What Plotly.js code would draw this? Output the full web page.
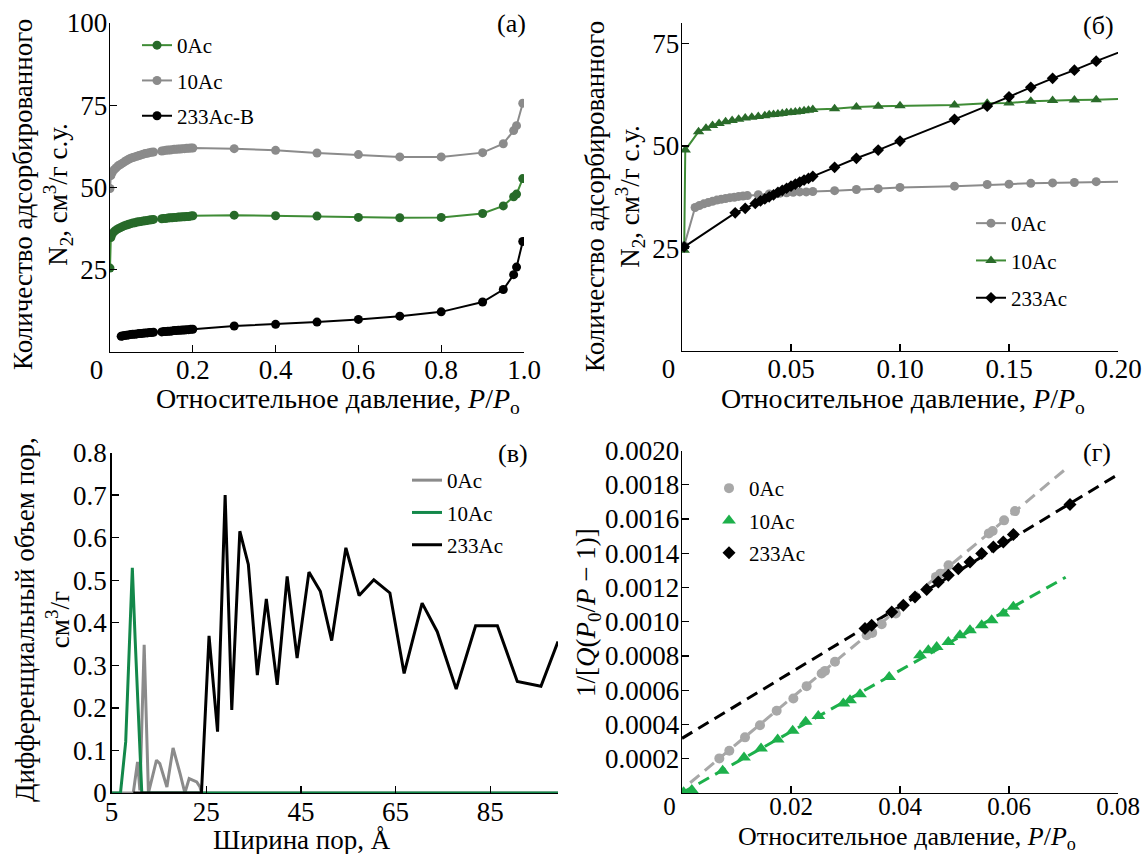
<!DOCTYPE html>
<html>
<head>
<meta charset="utf-8">
<script src="https://cdn.plot.ly/plotly-3.0.1.min.js"></script>
<style>html,body{margin:0;padding:0;background:#fff}#chart{width:1143px;height:854px}</style>
</head>
<body>
<div id="chart"></div>
<script>
// ---------- Panel (а): N2 isotherms, full P/P0 range ----------
const aP = [0, 0.002, 0.005, 0.01, 0.015, 0.02, 0.025, 0.03, 0.035, 0.04, 0.045, 0.05, 0.055, 0.06, 0.065, 0.07, 0.075, 0.08, 0.085, 0.09, 0.095, 0.1, 0.105, 0.125, 0.13, 0.135, 0.14, 0.145, 0.15, 0.155, 0.16, 0.165, 0.17, 0.175, 0.18, 0.185, 0.19, 0.195, 0.2, 0.3, 0.4, 0.5, 0.6, 0.7, 0.8, 0.9, 0.95, 0.975, 0.982, 0.997];
const a0Ac = [25.5, 34.8, 35.8, 36.6, 37.1, 37.5, 37.8, 38.1, 38.4, 38.6, 38.8, 39.0, 39.2, 39.3, 39.5, 39.6, 39.7, 39.8, 39.9, 40.0, 40.1, 40.2, 40.3, 40.5, 40.6, 40.6, 40.7, 40.8, 40.8, 40.9, 40.9, 41.0, 41.0, 41.1, 41.1, 41.2, 41.2, 41.3, 41.4, 41.6, 41.4, 41.3, 40.9, 40.8, 40.9, 42.1, 44.4, 47.2, 48.0, 52.7];
const a10Ac = [49.7, 53.6, 54.5, 55.4, 56.0, 56.6, 57.0, 57.4, 57.8, 58.2, 58.6, 58.9, 59.1, 59.3, 59.5, 59.7, 59.9, 60.1, 60.3, 60.4, 60.6, 60.7, 60.8, 61.1, 61.2, 61.3, 61.4, 61.4, 61.5, 61.6, 61.6, 61.7, 61.7, 61.8, 61.8, 61.9, 61.9, 62.0, 62.0, 61.8, 61.3, 60.5, 60.0, 59.3, 59.3, 60.6, 63.3, 67.3, 68.8, 75.6];
const aP233 = [0.027, 0.03, 0.035, 0.04, 0.045, 0.05, 0.055, 0.06, 0.065, 0.07, 0.075, 0.08, 0.085, 0.09, 0.095, 0.1, 0.105, 0.125, 0.13, 0.135, 0.14, 0.145, 0.15, 0.155, 0.16, 0.165, 0.17, 0.175, 0.18, 0.185, 0.19, 0.195, 0.2, 0.3, 0.4, 0.5, 0.6, 0.7, 0.8, 0.9, 0.95, 0.975, 0.982, 0.997];
const a233AcB = [4.8, 4.9, 5.0, 5.1, 5.2, 5.3, 5.4, 5.4, 5.5, 5.6, 5.6, 5.7, 5.8, 5.8, 5.9, 5.9, 6.0, 6.1, 6.2, 6.2, 6.3, 6.3, 6.4, 6.5, 6.5, 6.6, 6.6, 6.7, 6.7, 6.8, 6.8, 6.9, 6.9, 7.9, 8.4, 9.1, 9.9, 10.9, 12.2, 15.2, 19.0, 23.5, 25.8, 33.6];
const aXTicks = [0, 0.2, 0.4, 0.6, 0.8, 1.0];
const aXLabels = ['0\u00a0\u00a0\u00a0\u00a0', '0.2', '0.4', '0.6', '0.8', '1.0'];
const aYTicks = [25, 50, 75, 100];
const aYLabels = ['25', '50', '75', '100'];

// ---------- Panel (б): low-pressure region ----------
const b0AcP = [0.001, 0.006, 0.008, 0.010, 0.012, 0.014, 0.016, 0.018, 0.020, 0.022, 0.024, 0.026, 0.028, 0.030, 0.035, 0.040, 0.045, 0.048, 0.051, 0.054, 0.057, 0.060, 0.07, 0.08, 0.09, 0.10, 0.125, 0.14, 0.15, 0.16, 0.17, 0.18, 0.19, 0.21];
const b0Ac = [25.7, 35.0, 35.5, 35.9, 36.2, 36.5, 36.8, 37.0, 37.2, 37.4, 37.5, 37.7, 37.8, 37.9, 38.1, 38.3, 38.5, 38.6, 38.7, 38.8, 38.8, 38.9, 39.1, 39.4, 39.6, 39.9, 40.2, 40.6, 40.7, 40.9, 41.0, 41.1, 41.3, 41.4];
const b10AcP = [0.001, 0.0015, 0.0076, 0.011, 0.014, 0.017, 0.020, 0.023, 0.026, 0.029, 0.032, 0.035, 0.038, 0.040, 0.042, 0.044, 0.046, 0.048, 0.050, 0.052, 0.054, 0.056, 0.058, 0.060, 0.07, 0.08, 0.09, 0.10, 0.125, 0.14, 0.15, 0.16, 0.17, 0.18, 0.19, 0.21];
const b10Ac = [24.6, 49.0, 53.5, 54.3, 55.0, 55.5, 55.9, 56.2, 56.5, 56.8, 57.0, 57.2, 57.4, 57.6, 57.7, 57.8, 57.9, 58.1, 58.2, 58.3, 58.4, 58.6, 58.7, 58.9, 59.1, 59.5, 59.7, 59.8, 60.0, 60.4, 60.5, 60.9, 61.1, 61.2, 61.3, 61.6];
const b233AcP = [0.001, 0.0244, 0.029, 0.0336, 0.036, 0.038, 0.040, 0.042, 0.044, 0.046, 0.048, 0.050, 0.052, 0.054, 0.056, 0.058, 0.060, 0.07, 0.08, 0.09, 0.10, 0.125, 0.14, 0.15, 0.16, 0.17, 0.18, 0.19, 0.21];
const b233Ac = [25.4, 33.7, 34.8, 36.0, 36.6, 37.1, 37.6, 38.1, 38.7, 39.2, 39.7, 40.2, 40.7, 41.2, 41.7, 42.1, 42.6, 44.8, 47.0, 49.0, 51.2, 56.5, 59.7, 62.0, 64.3, 66.5, 68.5, 70.7, 74.8];
const bXTicks = [0, 0.05, 0.10, 0.15, 0.20];
const bXLabels = ['0\u00a0\u00a0\u00a0\u00a0', '0.05', '0.10', '0.15', '0.20'];
const bYTicks = [25, 50, 75];
const bYLabels = ['25', '50', '75'];

// ---------- Panel (в): pore size distribution ----------
const v0AcW = [5, 9.6, 10.5, 11.0, 11.9, 12.8, 14.5, 15.2, 16.7, 18.0, 19.5, 20.5, 21.4, 23.0, 23.7, 24.0, 99.3];
const v0Ac = [0, 0, 0.073, 0.006, 0.348, 0, 0.077, 0.069, 0.014, 0.106, 0.045, 0.0, 0.034, 0.026, 0.014, 0, 0];
const v10AcW = [5, 6.9, 8.0, 8.8, 9.4, 10.0, 11.4, 99.3];
const v10Ac = [0, 0, 0.12, 0.36, 0.529, 0.36, 0, 0];
const v233AcW = [9.6, 24.0, 25.6, 27.4, 29.0, 30.4, 32.1, 33.9, 35.8, 37.7, 40.0, 42.1, 44.2, 46.7, 49.1, 51.5, 54.5, 57.3, 60.4, 63.8, 66.8, 70.6, 73.8, 77.8, 81.9, 86.5, 90.7, 95.7, 99.3];
const v233Ac = [0, 0, 0.369, 0.144, 0.70, 0.195, 0.615, 0.537, 0.277, 0.456, 0.254, 0.509, 0.317, 0.519, 0.474, 0.358, 0.576, 0.464, 0.501, 0.47, 0.281, 0.446, 0.379, 0.244, 0.393, 0.393, 0.262, 0.251, 0.356];
const vXTicks = [5, 25, 45, 65, 85];
const vXLabels = ['5', '25', '45', '65', '85'];
const vYTicks = [0, 0.1, 0.2, 0.3, 0.4, 0.5, 0.6, 0.7, 0.8];
const vYLabels = ['0', '0.1', '0.2', '0.3', '0.4', '0.5', '0.6', '0.7', '0.8'];

// ---------- Panel (г): BET plots ----------
const g0AcP = [0.00685, 0.00868, 0.01156, 0.01431, 0.01737, 0.02043, 0.02287, 0.02563, 0.02624, 0.02807, 0.03388, 0.0349, 0.03664, 0.03923, 0.0466, 0.0474, 0.0489, 0.0563, 0.0570, 0.0591, 0.0611];
const g0Ac = [0.000202, 0.000247, 0.000325, 0.000396, 0.00048, 0.000552, 0.000624, 0.000698, 0.000713, 0.000766, 0.000921, 0.000935, 0.000985, 0.001048, 0.001262, 0.001281, 0.00133, 0.001516, 0.00153, 0.001592, 0.001646];
const g10AcP = [0.0003, 0.0018, 0.00746, 0.01138, 0.0145, 0.01755, 0.02031, 0.02269, 0.02501, 0.0296, 0.03083, 0.03266, 0.03802, 0.04367, 0.0452, 0.04673, 0.04886, 0.051, 0.05284, 0.05499, 0.05682, 0.05896, 0.0608];
const g10Ac = [0.000005, 0.000018, 0.00013, 0.000208, 0.00026, 0.000313, 0.000363, 0.000416, 0.000449, 0.000523, 0.000542, 0.000577, 0.000678, 0.000805, 0.000834, 0.000853, 0.000882, 0.000921, 0.00095, 0.00098, 0.001009, 0.001048, 0.001087];
const g233AcP = [0.03358, 0.0348, 0.03848, 0.04061, 0.04275, 0.0449, 0.04703, 0.04886, 0.0507, 0.05284, 0.05499, 0.05713, 0.05896, 0.0608, 0.07119];
const g233Ac = [0.00096, 0.00098, 0.001057, 0.001096, 0.001145, 0.001188, 0.001232, 0.001271, 0.00131, 0.001349, 0.001398, 0.001436, 0.001465, 0.00151, 0.001685];
const gFit0AcP = [0.0015, 0.0707];
const gFit0Ac = [0.00006, 0.00190];
const gFit10AcP = [0, 0.0704];
const gFit10Ac = [0, 0.00126];
const gFit233AcP = [0, 0.0814];
const gFit233Ac = [0.000319, 0.001887];
const gXTicks = [0, 0.02, 0.04, 0.06, 0.08];
const gXLabels = ['0\u00a0\u00a0\u00a0\u00a0', '0.02', '0.04', '0.06', '0.08'];
const gYTicks = [0.0002, 0.0004, 0.0006, 0.0008, 0.0010, 0.0012, 0.0014, 0.0016, 0.0018, 0.0020];
const gYLabels = ['0.0002', '0.0004', '0.0006', '0.0008', '0.0010', '0.0012', '0.0014', '0.0016', '0.0018', '0.0020'];

// ---------- styling / layout ----------
const FONT = '"Liberation Serif", "Times New Roman", Times, serif';
const W = 1143, H = 854;
const px = v => v / W;
const py = v => 1 - v / H;

function axis(domain, range, vals, text, anchor, standoff, fsize) {
  return {
    domain: domain, range: range, tickvals: vals, ticktext: text, anchor: anchor,
    showline: true, linecolor: '#000', linewidth: 1.3, mirror: false,
    ticks: 'inside', ticklen: 7, tickwidth: 1.3, tickcolor: '#000',
    ticklabelstandoff: standoff,
    showgrid: false, zeroline: false, fixedrange: true,
    tickfont: {family: FONT, size: fsize || 27, color: '#000'}
  };
}

const GREEN_A_LINE = '#3f8c36', GREEN_A_MARK = '#276a29';
const GRAY = '#8b8b8b';
const GREEN_V = '#13884a';
const GRAY_G = '#a8a8a8', GREEN_G = '#1db04b';

const traces = [
  // (а)
  {x: aP, y: a0Ac, xaxis: 'x', yaxis: 'y', mode: 'lines+markers', name: '0Ac',
   line: {color: GREEN_A_LINE, width: 2}, marker: {color: GREEN_A_MARK, size: 9},
   legend: 'legend', legendgroup: 'a1'},
  {x: aP, y: a10Ac, xaxis: 'x', yaxis: 'y', mode: 'lines+markers', name: '10Ac',
   line: {color: GRAY, width: 2}, marker: {color: GRAY, size: 9},
   legend: 'legend', legendgroup: 'a2'},
  {x: aP233, y: a233AcB, xaxis: 'x', yaxis: 'y', mode: 'lines+markers', name: '233Ac-B',
   line: {color: '#000', width: 2}, marker: {color: '#000', size: 9},
   legend: 'legend', legendgroup: 'a3'},
  // (б)
  {x: b0AcP, y: b0Ac, xaxis: 'x2', yaxis: 'y2', mode: 'lines+markers', name: '0Ac',
   line: {color: GRAY, width: 2}, marker: {color: GRAY, size: 9},
   legend: 'legend2', legendgroup: 'b1'},
  {x: b10AcP, y: b10Ac, xaxis: 'x2', yaxis: 'y2', mode: 'lines+markers', name: '10Ac',
   line: {color: GREEN_A_LINE, width: 2}, marker: {color: '#2a6b2a', size: 10, symbol: 'triangle-up'},
   legend: 'legend2', legendgroup: 'b2'},
  {x: b233AcP, y: b233Ac, xaxis: 'x2', yaxis: 'y2', mode: 'lines+markers', name: '233Ac',
   line: {color: '#000', width: 2}, marker: {color: '#000', size: 9, symbol: 'diamond'},
   legend: 'legend2', legendgroup: 'b3'},
  // (в)
  {x: v0AcW, y: v0Ac, xaxis: 'x3', yaxis: 'y3', mode: 'lines', name: '0Ac',
   line: {color: GRAY, width: 3}, legend: 'legend3', legendgroup: 'v1'},
  {x: v10AcW, y: v10Ac, xaxis: 'x3', yaxis: 'y3', mode: 'lines', name: '10Ac',
   line: {color: GREEN_V, width: 3}, legend: 'legend3', legendgroup: 'v2'},
  {x: v233AcW, y: v233Ac, xaxis: 'x3', yaxis: 'y3', mode: 'lines', name: '233Ac',
   line: {color: '#000', width: 3}, legend: 'legend3', legendgroup: 'v3'},
  // (г) fits
  {x: gFit0AcP, y: gFit0Ac, xaxis: 'x4', yaxis: 'y4', mode: 'lines', showlegend: false,
   line: {color: GRAY_G, width: 3, dash: '12px,7px'}},
  {x: gFit10AcP, y: gFit10Ac, xaxis: 'x4', yaxis: 'y4', mode: 'lines', showlegend: false,
   line: {color: GREEN_G, width: 3, dash: '12px,7px'}},
  {x: gFit233AcP, y: gFit233Ac, xaxis: 'x4', yaxis: 'y4', mode: 'lines', showlegend: false,
   line: {color: '#000', width: 3, dash: '12px,7px'}},
  // (г) points
  {x: g0AcP, y: g0Ac, xaxis: 'x4', yaxis: 'y4', mode: 'markers', name: '0Ac',
   marker: {color: GRAY_G, size: 10}, legend: 'legend4', legendgroup: 'g1'},
  {x: g10AcP, y: g10Ac, xaxis: 'x4', yaxis: 'y4', mode: 'markers', name: '10Ac',
   marker: {color: GREEN_G, size: 12, symbol: 'triangle-up'}, legend: 'legend4', legendgroup: 'g2'},
  {x: g233AcP, y: g233Ac, xaxis: 'x4', yaxis: 'y4', mode: 'markers', name: '233Ac',
   marker: {color: '#000', size: 10, symbol: 'diamond'}, legend: 'legend4', legendgroup: 'g3'}
];

function legendAt(x, y, gap) {
  return {x: px(x), y: py(y), xanchor: 'left', yanchor: 'top', bgcolor: 'rgba(0,0,0,0)',
          borderwidth: 0, font: {family: FONT, size: 21, color: '#000'},
          tracegroupgap: gap, itemclick: false, itemdoubleclick: false};
}

function note(text, x, y, size, angle) {
  return {text: text, xref: 'paper', yref: 'paper', x: px(x), y: py(y),
          xanchor: 'center', yanchor: 'middle', showarrow: false, textangle: angle || 0,
          font: {family: FONT, size: size, color: '#000'}};
}

const xTitle = 'Относительное давление, <i>P</i>/<i>P</i><sub>о</sub>';
const yTitleIso = 'Количество адсорбированного<br>N<sub>2</sub>, см<sup>3</sup>/г с.у.';

const layout = {
  width: W, height: H, margin: {l: 0, r: 0, t: 0, b: 0},
  paper_bgcolor: '#fff', plot_bgcolor: 'rgba(0,0,0,0)',
  font: {family: FONT, color: '#000'},
  xaxis: axis([px(110), px(524)], [0, 1], aXTicks, aXLabels, 'y', -7),
  yaxis: axis([py(352), py(23)], [0, 100], aYTicks, aYLabels, 'x', -4),
  xaxis2: axis([px(682), px(1118)], [0, 0.2], bXTicks, bXLabels, 'y2', -7),
  yaxis2: axis([py(351), py(23)], [0, 80], bYTicks, bYLabels, 'x2', -4),
  xaxis3: axis([px(111.5), px(558)], [5, 99.3], vXTicks, vXLabels, 'y3', -6),
  yaxis3: axis([py(793), py(452.5)], [0, 0.8], vYTicks, vYLabels, 'x3', -2),
  xaxis4: axis([px(682), px(1118)], [0, 0.08], gXTicks, gXLabels, 'y4', -9, 25),
  yaxis4: axis([py(793), py(450.5)], [0, 0.002], gYTicks, gYLabels, 'x4', -4),
  legend: legendAt(137, 25, 5),
  legend2: legendAt(971, 203, 7),
  legend3: legendAt(407, 460, 2),
  legend4: legendAt(709, 468, 2),
  annotations: [
    note('(а)', 511, 23, 26),
    note('(б)', 1098, 25, 26),
    note('(в)', 513, 453, 26),
    note('(г)', 1097, 452, 26),
    note(xTitle, 338, 400, 28),
    note(xTitle, 903, 400, 28),
    note('Ширина пор, Å', 302, 840, 27),
    note(xTitle, 907, 838, 26),
    note(yTitleIso, 42, 195, 27, -90),
    note(yTitleIso, 614, 197, 27, -90),
    note('Дифференциальный объем пор,<br>см<sup>3</sup>/г', 42, 620, 27, -90),
    note('1/[<i>Q</i>(<i>P</i><sub>0</sub>/<i>P</i> − 1)]', 588, 613, 27, -90)
  ],
  showlegend: true
};

Plotly.newPlot('chart', traces, layout, {displayModeBar: false, staticPlot: true});
</script>
</body>
</html>
